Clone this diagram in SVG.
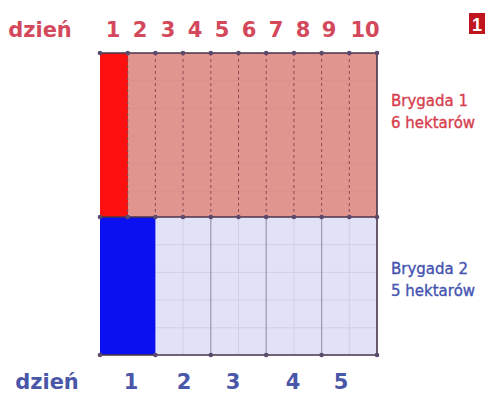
<svg xmlns="http://www.w3.org/2000/svg" width="496" height="393" viewBox="0 0 496 393">
  <style>
    .lbl{font-family:"DejaVu Sans","Liberation Sans",sans-serif;}
    .top{fill:#d4485c;font-size:21px;font-weight:bold;}
    .bot{fill:#4a56a8;font-size:21px;font-weight:bold;}
    .br1{fill:#d8404e;font-size:15px;stroke:#d8404e;stroke-width:0.35;}
    .br2{fill:#4454b0;font-size:15px;stroke:#4454b0;stroke-width:0.35;}
    .dash{stroke:#8a4a52;stroke-width:1;stroke-dasharray:3 3;fill:none;}
    .faint{stroke:#cfcfe6;stroke-width:1;fill:none;}
    .faintr{stroke:#dc928c;stroke-width:1;fill:none;}
    .solid{stroke:#9a9aae;stroke-width:1.2;fill:none;}
    .edge{stroke:#4a3448;stroke-width:1.6;fill:none;}
    .dot{fill:#5a4a6c;}
  </style>
  <rect width="496" height="393" fill="#ffffff"/>

  <g id="brygada1-area">
    <rect x="100" y="53" width="277" height="164" fill="#e0958f"/>
    <g class="faintr">
      <path d="M100 80.7H377M100 108.4H377M100 136H377M100 163.8H377M100 191.5H377"/>
    </g>
    <rect x="100" y="53" width="28" height="164" fill="#ff1010"/>
  </g>

  <g id="brygada2-area">
    <rect x="100" y="217" width="277" height="138" fill="#e2e2f6"/>
    <g class="faint">
      <path d="M100 244.7H377M100 272.4H377M100 300.1H377M100 327.8H377"/>
      <path d="M183 217V355M238.5 217V355M294 217V355M349.3 217V355"/>
    </g>
    <rect x="100" y="217" width="55.4" height="138" fill="#0a10f0"/>
  </g>

  <g id="connectors">
    <g class="dash">
      <path d="M127.7 53V217M155.4 53V217M183 53V217M210.8 53V217M238.5 53V217M266.2 53V217M293.9 53V217M321.6 53V217M349.3 53V217"/>
    </g>
    <g class="solid">
      <path d="M210.8 217V355M266.2 217V355M321.6 217V355"/>
    </g>
    <g class="edge">
      <path d="M100 53H377V355H100"/>
      <path d="M100 217H377"/>
    </g>
    <g class="dot">
      <circle cx="100" cy="53" r="2.3"/><circle cx="127.7" cy="53" r="2.3"/><circle cx="155.4" cy="53" r="2.3"/><circle cx="183" cy="53" r="2.3"/><circle cx="210.8" cy="53" r="2.3"/><circle cx="238.5" cy="53" r="2.3"/><circle cx="266.2" cy="53" r="2.3"/><circle cx="293.9" cy="53" r="2.3"/><circle cx="321.6" cy="53" r="2.3"/><circle cx="349.3" cy="53" r="2.3"/><circle cx="377" cy="53" r="2.3"/>
      <circle cx="100" cy="217" r="2.3"/><circle cx="127.7" cy="217" r="2.3"/><circle cx="155.4" cy="217" r="2.3"/><circle cx="183" cy="217" r="2.3"/><circle cx="210.8" cy="217" r="2.3"/><circle cx="238.5" cy="217" r="2.3"/><circle cx="266.2" cy="217" r="2.3"/><circle cx="293.9" cy="217" r="2.3"/><circle cx="321.6" cy="217" r="2.3"/><circle cx="349.3" cy="217" r="2.3"/><circle cx="377" cy="217" r="2.3"/>
      <circle cx="100" cy="355" r="2.3"/><circle cx="155.4" cy="355" r="2.3"/><circle cx="210.8" cy="355" r="2.3"/><circle cx="266.2" cy="355" r="2.3"/><circle cx="321.6" cy="355" r="2.3"/><circle cx="377" cy="355" r="2.3"/>
    </g>
  </g>

  <g id="top-labels" class="lbl top" text-anchor="middle">
    <text x="40" y="37">dzień</text>
    <text x="113" y="37">1</text>
    <text x="140" y="37">2</text>
    <text x="168" y="37">3</text>
    <text x="195" y="37">4</text>
    <text x="222" y="37">5</text>
    <text x="249" y="37">6</text>
    <text x="276" y="37">7</text>
    <text x="303" y="37">8</text>
    <text x="329" y="37">9</text>
    <text x="365" y="37">10</text>
  </g>

  <g id="bottom-labels" class="lbl bot" text-anchor="middle">
    <text x="47" y="389">dzień</text>
    <text x="131" y="389">1</text>
    <text x="184" y="389">2</text>
    <text x="233" y="389">3</text>
    <text x="293" y="389">4</text>
    <text x="341" y="389">5</text>
  </g>

  <g id="brygada1-label" class="lbl br1">
    <text x="391" y="106">Brygada 1</text>
    <text x="391" y="128">6 hektarów</text>
  </g>

  <g id="brygada2-label" class="lbl br2">
    <text x="391" y="274">Brygada 2</text>
    <text x="391" y="296">5 hektarów</text>
  </g>

  <g id="badge">
    <rect x="469" y="13" width="16" height="21" fill="#c0141e"/>
    <text x="477" y="30.5" text-anchor="middle" font-family="Liberation Sans, Arial, sans-serif" font-size="18" font-weight="bold" fill="#ffffff">1</text>
  </g>
</svg>
